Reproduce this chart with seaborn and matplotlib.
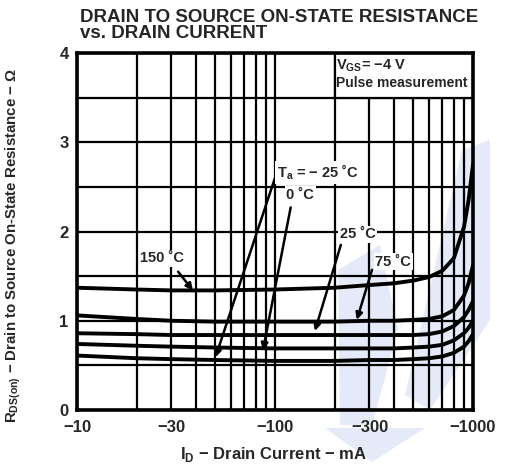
import matplotlib
matplotlib.use("Agg")
import matplotlib.pyplot as plt
import seaborn as sns
import pandas as pd
import numpy as np
from matplotlib.patches import Rectangle, Polygon

# ---- data ----
current_ma = [10, 20, 30, 50, 100, 200, 300, 400, 500, 600, 700, 800, 900, 950, 1000]
r_150 = [1.37, 1.35, 1.34, 1.34, 1.35, 1.37, 1.40, 1.42, 1.45, 1.49, 1.56, 1.70, 2.05, 2.35, 2.75]
r_75 = [1.06, 1.02, 1.00, 0.99, 0.99, 0.99, 1.00, 1.00, 1.01, 1.02, 1.05, 1.12, 1.28, 1.42, 1.62]
r_25 = [0.86, 0.85, 0.84, 0.84, 0.84, 0.84, 0.84, 0.84, 0.84, 0.85, 0.88, 0.94, 1.04, 1.12, 1.22]
r_0 = [0.74, 0.72, 0.71, 0.70, 0.69, 0.69, 0.69, 0.69, 0.70, 0.71, 0.73, 0.78, 0.86, 0.92, 1.00]
r_m25 = [0.61, 0.58, 0.57, 0.56, 0.55, 0.55, 0.56, 0.56, 0.57, 0.58, 0.60, 0.64, 0.71, 0.77, 0.85]
temps = ["150", "75", "25", "0", "-25"]
x_ticks = [10, 30, 100, 300, 1000]
x_tick_labels = ["\u221210", "\u221230", "\u2212100", "\u2212300", "\u22121000"]
y_ticks = [0, 1, 2, 3, 4]

series = {"150": r_150, "75": r_75, "25": r_25, "0": r_0, "-25": r_m25}
df = pd.concat([pd.DataFrame({"I": current_ma, "R": v, "T": k}) for k, v in series.items()])

sns.set_style("white")
plt.rcParams["font.family"] = ["Liberation Sans", "DejaVu Sans"]

fig = plt.figure(figsize=(5.07, 4.74), dpi=100)
ax = fig.add_axes([77/507, 1-410/474, 396/507, 357/474])
ax.patch.set_alpha(0)

# faint watermark shapes (behind everything)
wm = "#e4eaf7"
for poly in [
    [(462, 150), (490, 140), (490, 320), (430, 410), (405, 395)],
    [(338, 270), (380, 245), (398, 330), (372, 425), (340, 425)],
    [(325, 428), (425, 428), (372, 462)],
]:
    ax.add_patch(Polygon([(x/507, 1-y/474) for x, y in poly], closed=True,
                         transform=fig.transFigure, facecolor=wm, edgecolor="none",
                         zorder=0.1, clip_on=False))

sns.lineplot(data=df, x="I", y="R", hue="T", hue_order=temps,
             palette=["black"]*5, legend=False, linewidth=2.8, ax=ax, zorder=5)

ax.set_xscale("log")
ax.set_xlim(10, 1000)
ax.set_ylim(0, 4)
ax.set_xticks(x_ticks)
ax.set_xticklabels(x_tick_labels)
minor = [m*d for d in (10, 100) for m in range(2, 10)]
ax.set_xticks(minor, minor=True)
ax.set_xticklabels([], minor=True)
ax.set_yticks(y_ticks)
ax.set_yticks(np.arange(0.5, 4, 1.0), minor=True)
ax.tick_params(which="both", length=0, labelsize=12)
ax.tick_params(axis="x", pad=7)
ax.tick_params(axis="y", pad=6)
for lab in ax.get_xticklabels() + ax.get_yticklabels():
    lab.set_fontweight("bold")
ax.grid(True, which="both", color="black", linewidth=1.6)
ax.set_axisbelow(True)
for s in ax.spines.values():
    s.set_linewidth(2.6)
    s.set_color("black")
    s.set_zorder(10)

# condition box in the upper right
ax.add_patch(Rectangle((200, 3.5), 800, 0.5, facecolor="white", edgecolor="black",
                       linewidth=1.6, zorder=3))
ax.text(203, 3.86, "V$_{\\mathregular{GS}}$= \u22124 V",
        fontsize=10.5, fontweight="bold", va="center", ha="left", zorder=4)
ax.text(203, 3.66, "Pulse measurement", fontsize=10, fontweight="bold",
        va="center", ha="left", zorder=4)

box = dict(facecolor="white", edgecolor="none", pad=1.0)
arrow = dict(arrowstyle="-|>", color="black", lw=1.8, mutation_scale=10, shrinkA=0, shrinkB=0)
kw = dict(fontsize=10.5, fontweight="bold", bbox=box, zorder=6)
ax.annotate("", xy=(50, 0.59), xytext=(101, 2.63), arrowprops=arrow, zorder=6)
ax.text(102, 2.66, "T$_{\\mathregular{a}}$ = \u2212 25 \u02daC", ha="left", va="center", **kw)
ax.annotate("", xy=(87, 0.67), xytext=(120, 2.27), arrowprops=arrow, zorder=6)
ax.text(134, 2.41, "0 \u02daC", ha="center", va="center", **kw)
ax.annotate("", xy=(159, 0.885), xytext=(215, 1.85), arrowprops=arrow, zorder=6)
ax.text(262, 1.97, "25 \u02daC", ha="center", va="center", **kw)
ax.annotate("", xy=(259, 1.01), xytext=(309, 1.57), arrowprops=arrow, zorder=6)
ax.text(395, 1.66, "75 \u02daC", ha="center", va="center", **kw)
ax.annotate("", xy=(38.5, 1.34), xytext=(32.4, 1.55), arrowprops=arrow, zorder=6)
ax.text(26.9, 1.70, "150 \u02daC", ha="center", va="center", **kw)

ax.set_xlabel("")
ax.set_ylabel("")
fig.text(274/507, 1-455/474, "I$_{\\mathregular{D}}$ \u2212 Drain Current \u2212 mA",
         ha="center", va="center", fontsize=12, fontweight="bold")
fig.text(13/507, 1-245/474,
         "R$_{\\mathregular{DS(on)}}$ \u2212 Drain to Source On-State Resistance \u2212 \u03a9",
         ha="center", va="center", rotation=90, fontsize=10.8, fontweight="bold")
fig.text(80/507, 1-17/474, "DRAIN TO SOURCE ON-STATE RESISTANCE", ha="left", va="center",
         fontsize=13.5, fontweight="bold")
fig.text(80/507, 1-34/474, "vs. DRAIN CURRENT", ha="left", va="center",
         fontsize=13.5, fontweight="bold")

fig.savefig("out.png", dpi=100, facecolor="white")
